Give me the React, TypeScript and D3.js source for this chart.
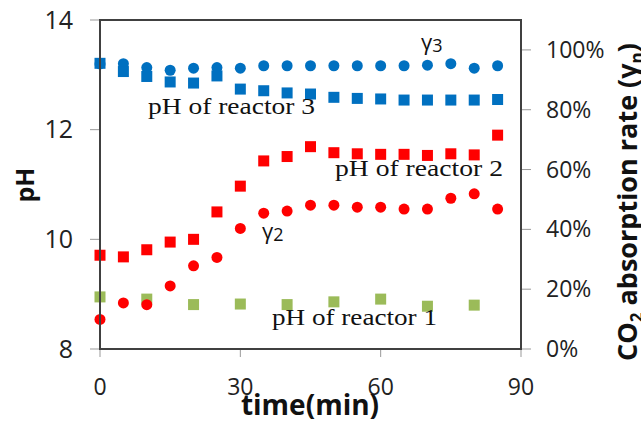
import React from 'react';
import * as d3 from 'd3';

// time points (min)
const times = [0, 5, 10, 15, 20, 25, 30, 35, 40, 45, 50, 55, 60, 65, 70, 75, 80, 85];
const reactor1Times = [0, 10, 20, 30, 40, 50, 60, 70, 80];

// pH (left axis)
const phReactor1 = [8.95, 8.91, 8.81, 8.82, 8.81, 8.86, 8.91, 8.78, 8.8];
const phReactor2 = [9.71, 9.68, 9.81, 9.95, 10.0, 10.5, 10.97, 11.43, 11.51, 11.69, 11.58, 11.56, 11.55, 11.55, 11.53, 11.56, 11.54, 11.9];
const phReactor3 = [13.21, 13.06, 12.97, 12.87, 12.85, 12.98, 12.74, 12.71, 12.67, 12.65, 12.59, 12.57, 12.56, 12.54, 12.54, 12.54, 12.54, 12.55];

// CO2 absorption rate (right axis)
const gamma2 = [0.099, 0.154, 0.148, 0.211, 0.278, 0.306, 0.403, 0.454, 0.461, 0.481, 0.481, 0.474, 0.474, 0.468, 0.468, 0.504, 0.519, 0.468];
const gamma3 = [0.953, 0.954, 0.941, 0.932, 0.939, 0.941, 0.939, 0.947, 0.947, 0.947, 0.947, 0.947, 0.947, 0.947, 0.949, 0.954, 0.939, 0.947];

const xTicks = [0, 30, 60, 90];
const phTicks = [8, 10, 12, 14];
const rateTicks = [0, 0.2, 0.4, 0.6, 0.8, 1.0];

const W = 641;
const H = 423;
const left = 100, right = 521, top = 20, bottom = 349;

const sans = '"Open Sans", sans-serif';
const serif = '"Liberation Serif", "Times New Roman", serif';

export default function App() {
  const x = d3.scaleLinear().domain([0, 90]).range([left, right]);
  const yL = d3.scaleLinear().domain([8, 14]).range([bottom, top]);
  const yR = d3.scaleLinear().domain([0, 1.1]).range([bottom, top]);
  const pct = d3.format('.0%');

  const sq = 11;
  const r = 5.5;

  const squares = (ts: number[], vs: number[], color: string) =>
    ts.map((t, i) => (
      <rect key={i} x={x(t) - sq / 2} y={yL(vs[i]) - sq / 2} width={sq} height={sq} fill={color} />
    ));
  const circles = (ts: number[], vs: number[], color: string) =>
    ts.map((t, i) => <circle key={i} cx={x(t)} cy={yR(vs[i])} r={r} fill={color} />);

  return (
    <svg width={W} height={H} style={{ position: 'absolute', left: 0, top: 0, background: '#fff' }}>
      {/* ticks */}
      {phTicks.map((t) => (
        <line key={'l' + t} x1={left - 10} x2={left} y1={yL(t)} y2={yL(t)} stroke="#999" />
      ))}
      {rateTicks.map((t) => (
        <line key={'r' + t} x1={right} x2={right + 10} y1={yR(t)} y2={yR(t)} stroke="#999" />
      ))}
      {xTicks.map((t) => (
        <line key={'x' + t} x1={x(t)} x2={x(t)} y1={bottom} y2={bottom + 8} stroke="#999" />
      ))}

      {/* marks */}
      <g>{squares(reactor1Times, phReactor1, '#9BBB59')}</g>
      <g>{circles(times, gamma2, '#FF0000')}</g>
      <g>{circles(times, gamma3, '#0070C0')}</g>
      <g>{squares(times, phReactor2, '#FF0000')}</g>
      <g>{squares(times, phReactor3, '#0070C0')}</g>

      {/* frame */}
      <rect x={left} y={top} width={right - left} height={bottom - top} fill="none" stroke="#404040" strokeWidth={2} />

      {/* tick labels */}
      {phTicks.map((t) => (
        <text key={'lt' + t} x={73} y={yL(t)} dy="0.35em" textAnchor="end" fontFamily={sans} fontSize={25} fill="#222">
          {t}
        </text>
      ))}
      {rateTicks.map((t) => (
        <text key={'rt' + t} x={546} y={yR(t)} dy="0.35em" textAnchor="start" fontFamily={sans} fontSize={23} fill="#222">
          {pct(t)}
        </text>
      ))}
      {xTicks.map((t) => (
        <text key={'xt' + t} x={x(t)} y={395} textAnchor="middle" fontFamily={sans} fontSize={23} fill="#222">
          {t}
        </text>
      ))}

      {/* axis titles */}
      <text x={310} y={415} textAnchor="middle" fontFamily={sans} fontWeight="bold" fontSize={28} fill="#111">
        time(min)
      </text>
      <text transform="translate(34,185) rotate(-90)" textAnchor="middle" fontFamily={sans} fontWeight="bold" fontSize={25} fill="#111">
        pH
      </text>
      <text transform="translate(637,202) rotate(-90)" textAnchor="middle" fontFamily={sans} fontWeight="bold" fontSize={27} fill="#111">
        CO<tspan fontSize={17} dy="6">2</tspan>
        <tspan dy="-6"> absorption rate (γ</tspan>
        <tspan fontSize={17} dy="6">n</tspan>
        <tspan dy="-6">)</tspan>
      </text>

      {/* annotations */}
      <text x={148} y={114} fontFamily={serif} fontSize={23} textLength={167} lengthAdjust="spacingAndGlyphs" fill="#111">
        pH of reactor 3
      </text>
      <text x={335} y={176} fontFamily={serif} fontSize={23} textLength={168} lengthAdjust="spacingAndGlyphs" fill="#111">
        pH of reactor 2
      </text>
      <text x={272} y={325} fontFamily={serif} fontSize={23} textLength={165} lengthAdjust="spacingAndGlyphs" fill="#111">
        pH of reactor 1
      </text>
      <text x={421} y={50} fontFamily={sans} fontSize={22} fill="#111">
        γ<tspan fontSize={18} dy="2">3</tspan>
      </text>
      <text x={262} y={239} fontFamily={sans} fontSize={22} fill="#111">
        γ<tspan fontSize={18} dy="2">2</tspan>
      </text>
    </svg>
  );
}
